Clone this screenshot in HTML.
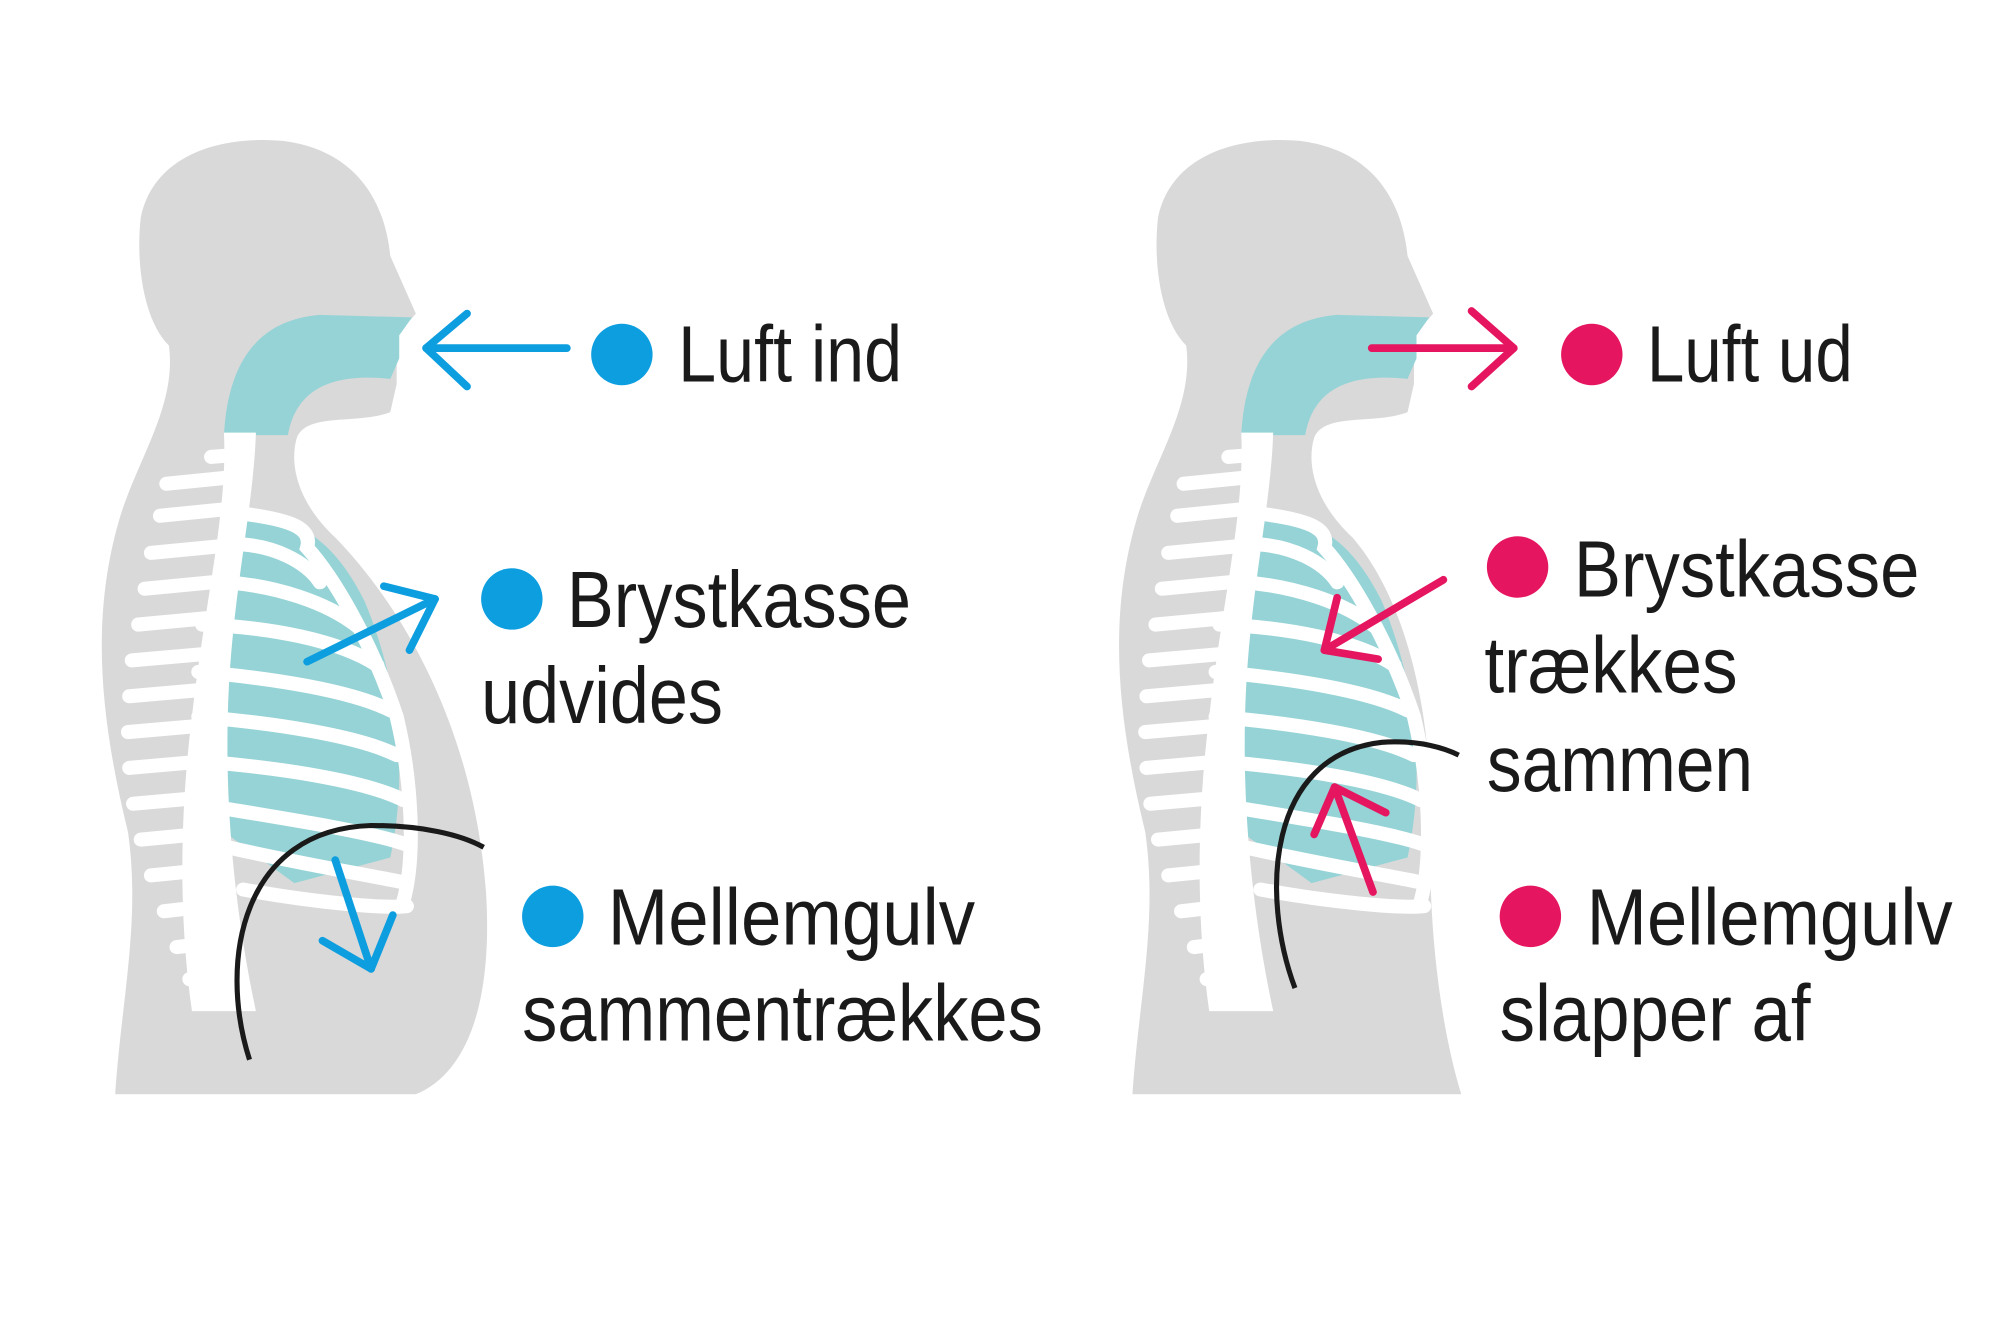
<!DOCTYPE html>
<html><head><meta charset="utf-8"><style>
html,body{margin:0;padding:0;background:#fff;width:2000px;height:1340px;overflow:hidden}
svg{display:block}
text{font-family:"Liberation Sans",sans-serif;font-size:62px;fill:#1a1a1a}
</style></head><body>
<svg width="2000" height="1340" viewBox="0 0 1563 1047" preserveAspectRatio="none" xmlns="http://www.w3.org/2000/svg">
<defs>
<g id="skel">
  <path d="M322 248 L312 262 L312 280 L305 296 C265 292 232 300 225 340 L175 340 C178 285 200 250 250 246 Z" fill="#96d3d6"/>
  <path d="M180 405 C230 400 260 420 285 470 C310 530 320 600 305 670 L230 690 L175 650 C160 600 150 500 180 405 Z" fill="#96d3d6"/>
  <path d="M175 338 L200 338 C198 400 180 470 178 560 C176 640 185 720 200 790 L150 790 C140 720 140 640 150 560 C160 470 178 400 175 338 Z" fill="#fff"/>
  <g stroke="#fff" stroke-width="11" stroke-linecap="round" fill="none">
    <path d="M165 357 L190 355"/><path d="M130 378 L180 373"/><path d="M125 403 L175 398"/>
    <path d="M118 432 L170 427"/><path d="M113 460 L165 455"/><path d="M108 488 L162 483"/>
    <path d="M103 516 L160 511"/><path d="M101 544 L158 539"/><path d="M100 572 L158 567"/>
    <path d="M101 600 L158 595"/><path d="M104 628 L160 623"/><path d="M110 656 L163 651"/>
    <path d="M118 684 L168 679"/><path d="M128 712 L172 707"/><path d="M138 740 L178 735"/>
    <path d="M148 765 L185 762"/>
    <path d="M180 400 C220 405 245 410 240 428 C260 450 290 500 310 560 C322 610 325 670 315 705"/>
    <path d="M180 425 C215 425 240 440 250 455"/>
    <path d="M178 455 C215 458 255 470 280 490"/>
    <path d="M158 488 C210 490 265 500 295 520"/>
    <path d="M155 525 C215 530 275 540 305 555"/>
    <path d="M155 560 C215 565 280 575 310 590"/>
    <path d="M158 595 C220 600 285 610 315 625"/>
    <path d="M165 630 C225 640 290 650 318 660"/>
    <path d="M178 662 C235 675 295 685 318 690"/>
    <path d="M190 695 C245 705 300 710 318 708"/>
  </g>
</g>
</defs>
<path d="M90 855 C95 780 110 720 100 650 C78 560 70 480 95 400 C110 355 138 315 132 270 C112 250 106 205 110 170 C120 122 170 106 220 110 C272 116 300 150 305 200 L325 245 L310 262 L310 300 L305 322 C280 332 240 322 232 342 C226 362 232 392 262 420 C322 482 372 580 380 700 C385 790 362 840 325 855 Z" fill="#d9d9d9"/>
<use href="#skel"/>
<path d="M885 855 C890 780 905 720 895 650 C873 560 865 480 890 400 C905 355 933 315 927 270 C907 250 901 205 905 170 C915 122 965 106 1015 110 C1067 116 1095 150 1100 200 L1120 245 L1105 262 L1105 300 L1100 322 C1075 332 1035 322 1027 342 C1021 362 1027 392 1057 420 C1100 470 1120 560 1118 650 C1116 720 1125 800 1142 855 Z" fill="#d9d9d9"/>
<use href="#skel" transform="translate(795 0)"/>

<g stroke="#0d9ee0" stroke-width="6" fill="none" stroke-linecap="round" stroke-linejoin="round">
  <path d="M443 272 L333 272"/><path d="M365 245 L333 272 L365 302"/>
  <path d="M240 517 L340 468"/><path d="M300 458 L340 468 L320 508"/>
  <path d="M262 672 L290 757"/><path d="M252 735 L290 757 L307 715"/>
</g>
<path d="M195 828 C170 750 190 648 290 645 C330 645 360 652 378 662" stroke="#1a1a1a" stroke-width="4" fill="none"/>
<g stroke="#e5155f" stroke-width="6" fill="none" stroke-linecap="round" stroke-linejoin="round">
  <path d="M1072 272 L1183 272"/><path d="M1150 243 L1183 272 L1150 302"/>
  <path d="M1128 453 L1035 508"/><path d="M1045 467 L1035 508 L1077 515"/>
  <path d="M1073 697 L1043 615"/><path d="M1027 652 L1043 615 L1083 635"/>
</g>
<path d="M1012 772 C985 700 990 590 1080 580 C1110 578 1130 585 1140 590" stroke="#1a1a1a" stroke-width="4" fill="none"/>

<g fill="#0d9ee0"><circle cx="486" cy="277" r="24"/><circle cx="400" cy="468" r="24"/><circle cx="432" cy="716" r="24"/></g>
<g fill="#e5155f"><circle cx="1244" cy="277" r="24"/><circle cx="1186" cy="443" r="24"/><circle cx="1196" cy="716" r="24"/></g>

<text x="530" y="298" textLength="175" lengthAdjust="spacingAndGlyphs">Luft ind</text>
<text x="443" y="490" textLength="269" lengthAdjust="spacingAndGlyphs">Brystkasse</text>
<text x="376" y="565" textLength="189" lengthAdjust="spacingAndGlyphs">udvides</text>
<text x="475" y="738" textLength="287" lengthAdjust="spacingAndGlyphs">Mellemgulv</text>
<text x="408" y="813" textLength="407" lengthAdjust="spacingAndGlyphs">sammentrækkes</text>
<text x="1287" y="298" textLength="161" lengthAdjust="spacingAndGlyphs">Luft ud</text>
<text x="1230" y="466" textLength="270" lengthAdjust="spacingAndGlyphs">Brystkasse</text>
<text x="1160" y="541" textLength="198" lengthAdjust="spacingAndGlyphs">trækkes</text>
<text x="1162" y="618" textLength="208" lengthAdjust="spacingAndGlyphs">sammen</text>
<text x="1240" y="738" textLength="286" lengthAdjust="spacingAndGlyphs">Mellemgulv</text>
<text x="1172" y="813" textLength="243" lengthAdjust="spacingAndGlyphs">slapper af</text>
</svg>
</body></html>
